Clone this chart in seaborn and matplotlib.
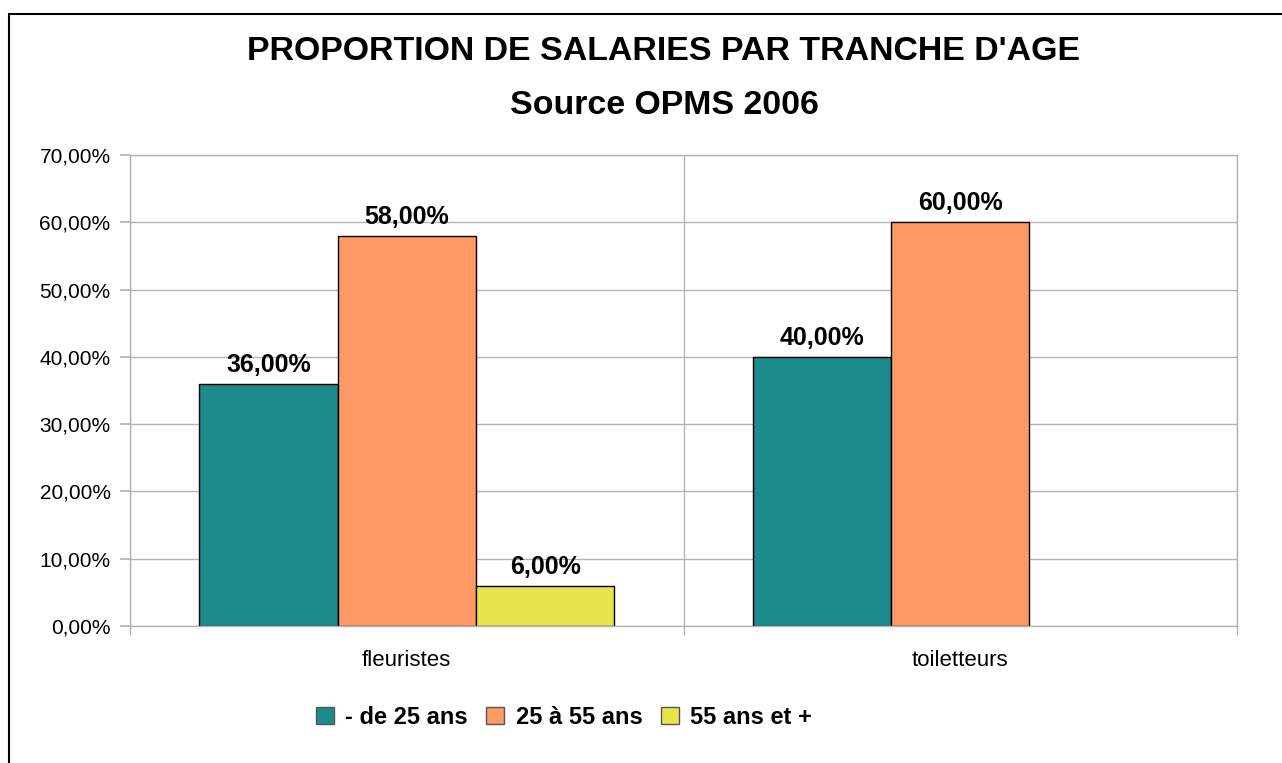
import numpy as np
import pandas as pd
import matplotlib
matplotlib.use("Agg")
import matplotlib.pyplot as plt
from matplotlib.ticker import FuncFormatter, FixedLocator
from matplotlib.lines import Line2D
import seaborn as sns

# ---- data ----
categories = ["fleuristes", "toiletteurs"]
age_groups = ["- de 25 ans", "25 à 55 ans", "55 ans et +"]
fleuristes_vals = [36.0, 58.0, 6.0]
toiletteurs_vals = [40.0, 60.0, np.nan]
colors = ["#1b8b8b", "#ff9966", "#e6e64c"]
title_line1 = "PROPORTION DE SALARIES PAR TRANCHE D'AGE"
title_line2 = "Source OPMS 2006"

rows = []
for cat, vals in zip(categories, [fleuristes_vals, toiletteurs_vals]):
    for g, v in zip(age_groups, vals):
        if not np.isnan(v):
            rows.append({"cat": cat, "age": g, "val": v})
df = pd.DataFrame(rows)

sns.set_theme(style="white")
plt.rcParams['font.family'] = ['Liberation Sans', 'DejaVu Sans']
plt.rcParams['text.color'] = 'black'
plt.rcParams['xtick.color'] = 'black'
plt.rcParams['ytick.color'] = 'black'

W, H = 1282, 763
fig = plt.figure(figsize=(W / 100, H / 100), dpi=100)
ax = fig.add_axes([130 / W, 1 - 626 / H, (1237 - 130) / W, (626 - 155) / H])

sns.barplot(data=df, x="cat", y="val", hue="age", order=categories,
            hue_order=age_groups, palette=colors, width=0.75,
            edgecolor="black", linewidth=1.0, saturation=1,
            errorbar=None, ax=ax, legend=False)

ax.set_xlim(-0.5, 1.5)
ax.set_ylim(0, 70)
ax.set_yticks(np.arange(0, 71, 10))
ax.yaxis.set_major_formatter(FuncFormatter(lambda v, p: f"{v:.2f}".replace(".", ",") + "%"))
ax.grid(axis="y", color="#b3b3b3", linewidth=1.0)
ax.set_axisbelow(True)
ax.xaxis.set_minor_locator(FixedLocator([-0.5, 0.5, 1.5]))
ax.grid(axis="x", which="minor", color="#b3b3b3", linewidth=1.0)
ax.set_xlabel("")
ax.set_ylabel("")
for s in ax.spines.values():
    s.set_color("#b3b3b3")
    s.set_linewidth(1.0)

ax.tick_params(axis="y", which="major", length=7, color="#b3b3b3", pad=7,
               labelsize=15, labelcolor="black", left=True)
ax.tick_params(axis="x", which="major", length=0, pad=17, labelsize=16,
               labelcolor="black")
ax.tick_params(axis="x", which="minor", length=6.5, color="#b3b3b3", bottom=True)

for cont in ax.containers:
    labels = []
    for b in cont:
        h = b.get_height()
        if np.isnan(h) or h == 0:
            labels.append("")
        else:
            labels.append(f"{h:.2f}".replace(".", ",") + "%")
    ax.bar_label(cont, labels=labels, padding=5, fontsize=18, fontweight="bold",
                 color="black")

fig.text(664 / W, 1 - 52 / H, title_line1, ha="center", va="center",
         fontsize=24.4, fontweight="bold", color="black")
fig.text(664 / W, 1 - 105 / H, title_line2, ha="center", va="center",
         fontsize=24.4, fontweight="bold", color="black")

handles = [plt.Rectangle((0, 0), 1, 1, facecolor=c, edgecolor="#555555", linewidth=1.0)
           for c in colors]
fig.legend(handles, age_groups, loc="center", bbox_to_anchor=(564 / W, 1 - 717 / H),
           ncol=3, frameon=False, prop={"size": 17, "weight": "bold"},
           labelcolor="black",
           handlelength=0.76, handleheight=0.76, handletextpad=0.47,
           columnspacing=0.8)

# outer border (top and left)
fig.add_artist(Line2D([9 / W, 1.01], [1 - 14 / H, 1 - 14 / H], color="black",
                      linewidth=1.5, transform=fig.transFigure))
fig.add_artist(Line2D([9 / W, 9 / W], [1 - 14 / H, -0.01], color="black",
                      linewidth=1.5, transform=fig.transFigure))

fig.savefig("out.png", dpi=100)
